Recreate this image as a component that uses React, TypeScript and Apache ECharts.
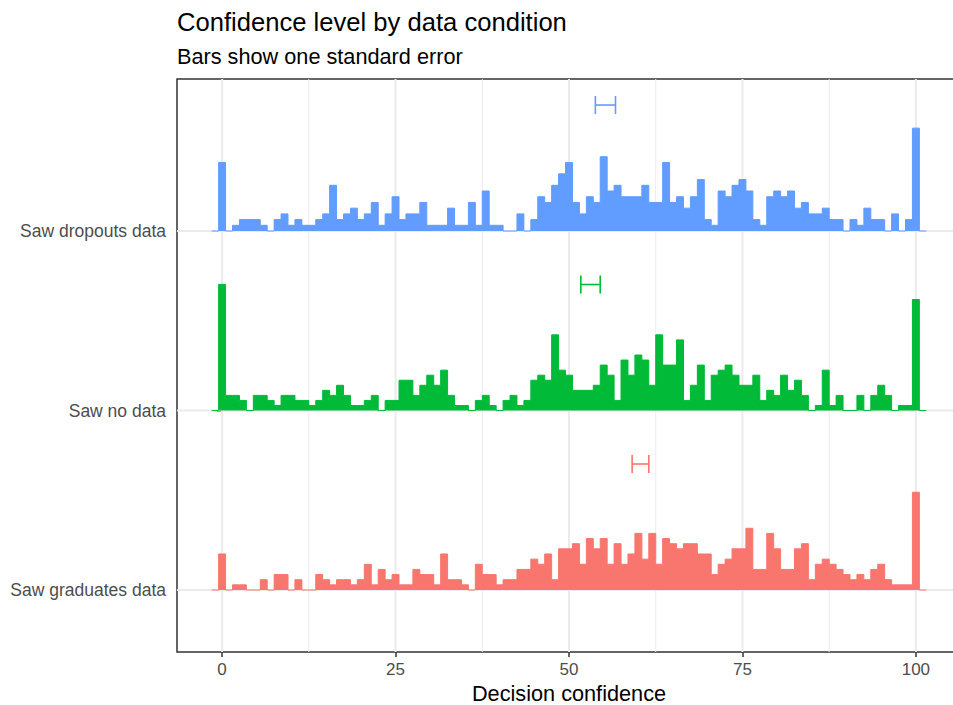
import React, { useEffect, useRef } from "react";
import * as echarts from "echarts";

// Histogram counts for decision confidence values 0..100 (one bin per integer)
const dropoutsCounts = [
  12, 0, 1, 2, 2, 2, 1, 0, 2, 3,
  1, 2, 1, 1, 2, 3, 8, 2, 3, 4,
  2, 3, 5, 1, 3, 6, 2, 3, 3, 5,
  1, 1, 1, 4, 1, 1, 5, 1, 7, 1,
  1, 0, 0, 3, 0, 2, 6, 5, 8, 10,
  12, 5, 3, 6, 5, 13, 7, 8, 6, 6,
  6, 8, 5, 5, 12, 5, 6, 4, 6, 9,
  2, 1, 7, 6, 8, 9, 7, 2, 1, 6,
  7, 6, 7, 4, 5, 3, 3, 4, 2, 2,
  0, 2, 1, 4, 2, 2, 0, 3, 0, 2,
  18,
];
const noDataCounts = [
  25, 3, 3, 2, 0, 3, 3, 2, 1, 3,
  3, 2, 2, 1, 2, 4, 3, 5, 3, 1,
  1, 2, 3, 0, 2, 2, 6, 6, 3, 5,
  7, 5, 8, 3, 1, 1, 0, 2, 3, 1,
  0, 2, 3, 1, 2, 6, 7, 6, 15, 8,
  7, 4, 4, 4, 5, 9, 7, 2, 10, 7,
  11, 10, 5, 15, 9, 9, 14, 2, 5, 9,
  2, 7, 8, 9, 7, 5, 5, 7, 2, 4,
  3, 7, 4, 6, 3, 0, 1, 8, 1, 3,
  0, 0, 3, 0, 3, 5, 3, 0, 1, 1,
  22,
];
const graduatesCounts = [
  7, 0, 1, 1, 0, 0, 2, 0, 3, 3,
  0, 2, 0, 0, 3, 2, 1, 2, 2, 1,
  2, 5, 1, 4, 2, 3, 1, 1, 4, 3,
  3, 1, 7, 2, 2, 1, 0, 5, 3, 3,
  1, 2, 2, 4, 4, 6, 5, 7, 2, 8,
  8, 9, 5, 10, 8, 10, 5, 9, 5, 7,
  11, 6, 11, 5, 10, 9, 8, 9, 9, 7,
  7, 3, 5, 6, 8, 8, 12, 4, 4, 11,
  8, 4, 4, 8, 9, 2, 5, 6, 5, 4,
  3, 2, 3, 2, 4, 5, 2, 1, 1, 1,
  19,
];

// Groups, bottom to top (y positions 1, 2, 3)
const groupNames = ["Saw graduates data", "Saw no data", "Saw dropouts data"];
const groupCounts = [graduatesCounts, noDataCounts, dropoutsCounts];
// Mean +/- one standard error (bounds)
const errLow = [59.1, 51.7, 53.8];
const errHigh = [61.5, 54.5, 56.7];

const xTicks = [0, 25, 50, 75, 100];
const xMinorGrid = [12.5, 37.5, 62.5, 87.5];
const yTicks = [1, 2, 3];

// layout / style constants
const COLORS = ["#F8766D", "#00BA38", "#619CFF"];
const X_MIN = -6.5;
const X_MAX = 106.5;
const Y_MIN = 0.6546;
const Y_MAX = 3.847;
const HEIGHT_SCALE = 12.93;
const ERR_OFFSET = 0.702;
const FONT = "'Liberation Sans', Arial, Helvetica, sans-serif";

function stepPoints(counts: number[], base: number) {
  const n = counts.reduce((a, b) => a + b, 0);
  const padded = [0, ...counts, 0];
  const pts: number[][] = [];
  padded.forEach((c, i) => {
    const v = i - 1;
    const y = base + (c / n) * HEIGHT_SCALE;
    pts.push([v - 0.5, y], [v + 0.5, y]);
  });
  return pts;
}

export default function App() {
  const ref = useRef<HTMLDivElement>(null);
  useEffect(() => {
    if (!ref.current) return;
    const chart = echarts.init(ref.current, undefined, { renderer: "svg" });

    const histSeries = groupCounts.map((counts, gi) => ({
      type: "line",
      name: groupNames[gi],
      data: stepPoints(counts, yTicks[gi]),
      symbol: "none",
      showSymbol: false,
      z: 3,
      lineStyle: { color: COLORS[gi], width: 1 },
      itemStyle: { color: COLORS[gi] },
      areaStyle: { color: COLORS[gi], opacity: 1, origin: yTicks[gi] },
      silent: true,
    }));

    const option: any = {
      animation: false,
      backgroundColor: "#ffffff",
      textStyle: { fontFamily: FONT },
      title: [
        {
          text: "Confidence level by data condition",
          left: 177,
          top: 9,
          padding: 0,
          textStyle: { fontSize: 25.6, lineHeight: 26, fontWeight: "normal", color: "#000000", fontFamily: FONT },
        },
        {
          text: "Bars show one standard error",
          left: 177,
          top: 46,
          padding: 0,
          textStyle: { fontSize: 21.7, lineHeight: 21.7, fontWeight: "normal", color: "#000000", fontFamily: FONT },
        },
      ],
      grid: {
        left: 177,
        right: 0,
        top: 79,
        bottom: 53,
        show: true,
        borderColor: "#333333",
        borderWidth: 1.5,
        backgroundColor: "transparent",
        containLabel: false,
        outerBoundsMode: "none",
      },
      xAxis: {
        type: "value",
        min: X_MIN,
        max: X_MAX,
        axisLine: { show: false },
        splitLine: { show: false },
        axisTick: { show: true, customValues: xTicks, length: 5, lineStyle: { color: "#333333", width: 1.5 } },
        axisLabel: { customValues: xTicks, color: "#4D4D4D", fontSize: 17, margin: 9, fontFamily: FONT },
        name: "Decision confidence",
        nameLocation: "middle",
        nameGap: 29,
        nameTextStyle: { fontSize: 21.7, color: "#000000", fontFamily: FONT },
      },
      yAxis: {
        type: "value",
        min: Y_MIN,
        max: Y_MAX,
        axisLine: { show: false },
        splitLine: { show: false },
        axisTick: { show: true, customValues: yTicks, length: 5, lineStyle: { color: "#333333", width: 1.5 } },
        axisLabel: {
          customValues: yTicks,
          color: "#4D4D4D",
          fontSize: 17.5,
          margin: 11,
          fontFamily: FONT,
          formatter: (v: number) => {
            const i = Math.round(v);
            return Math.abs(v - i) < 1e-6 && i >= 1 && i <= 3 ? groupNames[i - 1] : "";
          },
        },
      },
      series: [
        {
          type: "custom",
          name: "minor grid",
          z: 1,
          silent: true,
          data: xMinorGrid.map((v) => [v, 2]),
          encode: { x: 0, y: 1 },
          renderItem: (params: any, api: any) => {
            const cs = params.coordSys;
            const x = api.coord([api.value(0), 2])[0];
            return {
              type: "line",
              shape: { x1: x, y1: cs.y, x2: x, y2: cs.y + cs.height },
              style: { stroke: "#EBEBEB", lineWidth: 1 },
            };
          },
        },
        {
          type: "custom",
          name: "major grid x",
          z: 1,
          silent: true,
          data: xTicks.map((v) => [v, 2]),
          encode: { x: 0, y: 1 },
          renderItem: (params: any, api: any) => {
            const cs = params.coordSys;
            const x = api.coord([api.value(0), 2])[0];
            return {
              type: "line",
              shape: { x1: x, y1: cs.y, x2: x, y2: cs.y + cs.height },
              style: { stroke: "#EBEBEB", lineWidth: 2 },
            };
          },
        },
        {
          type: "custom",
          name: "major grid y",
          z: 1,
          silent: true,
          data: yTicks.map((v) => [50, v]),
          encode: { x: 0, y: 1 },
          renderItem: (params: any, api: any) => {
            const cs = params.coordSys;
            const y = api.coord([50, api.value(1)])[1];
            return {
              type: "line",
              shape: { x1: cs.x, y1: y, x2: cs.x + cs.width, y2: y },
              style: { stroke: "#EBEBEB", lineWidth: 2 },
            };
          },
        },
        ...histSeries,
        {
          type: "custom",
          name: "standard error",
          z: 4,
          silent: true,
          data: errLow.map((lo, i) => [lo, errHigh[i], yTicks[i] + ERR_OFFSET]),
          encode: { x: [0, 1], y: 2 },
          renderItem: (params: any, api: any) => {
            const color = COLORS[params.dataIndex];
            const p1 = api.coord([api.value(0), api.value(2)]);
            const p2 = api.coord([api.value(1), api.value(2)]);
            const h = 9;
            const style = { stroke: color, lineWidth: 1.6 };
            return {
              type: "group",
              children: [
                { type: "line", shape: { x1: p1[0], y1: p1[1], x2: p2[0], y2: p2[1] }, style },
                { type: "line", shape: { x1: p1[0], y1: p1[1] - h, x2: p1[0], y2: p1[1] + h }, style },
                { type: "line", shape: { x1: p2[0], y1: p2[1] - h, x2: p2[0], y2: p2[1] + h }, style },
              ],
            };
          },
        },
      ],
    };

    chart.setOption(option);
    return () => chart.dispose();
  }, []);

  return (
    <div
      style={{ position: "absolute", left: 0, top: 0, width: 953, height: 705, overflow: "hidden", background: "#fff" }}
    >
      <div ref={ref} style={{ width: 961, height: 705 }} />
    </div>
  );
}
